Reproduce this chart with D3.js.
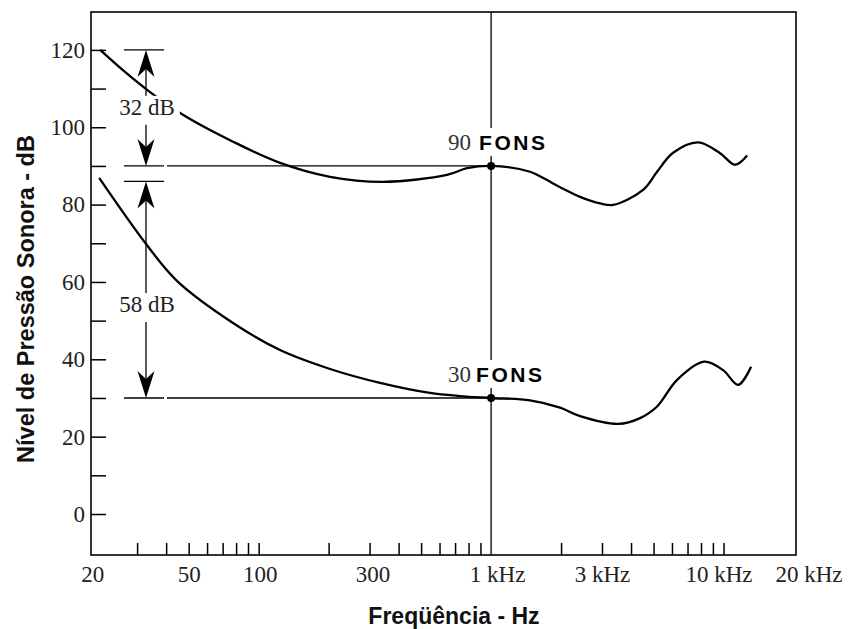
<!DOCTYPE html>
<html>
<head>
<meta charset="utf-8">
<script src="https://cdn.jsdelivr.net/npm/d3@7"></script>
<style>
  body { margin: 0; background: #fff; }
  svg { display: block; }
</style>
</head>
<body>
<svg class="chart" width="848" height="629"></svg>
<script>

//------------------------------------------------------------------------------
//Data
//------------------------------------------------------------------------------
// 90 phon curve (Hz, dB)
var freq90 = [20.8, 26.6, 34.1, 48.2, 76.8, 123.6, 202.9, 343, 646.6, 788, 1000, 1471, 1707, 1981, 2414, 2945, 3348, 4507, 5178, 6067, 7773, 9664, 11210, 12630];
var spl90  = [120, 114.3, 109.1, 102.9, 96.4, 90.8, 87.2, 85.9, 87.7, 89.4, 90, 88.5, 86.6, 84.5, 82.0, 80.3, 79.9, 83.8, 88.5, 93.4, 96.1, 93.3, 90.3, 92.7];

// 30 phon curve (Hz, dB)
var freq30 = [20.6, 32.8, 44.5, 77.6, 123.6, 202.9, 332.9, 546, 735, 1000, 1471, 1981, 2414, 3519, 4376, 5178, 6312, 8250, 9956, 11550, 13140];
var spl30  = [86.9, 69.8, 60.3, 49.4, 42.4, 37.5, 33.9, 31.3, 30.5, 30, 29.4, 27.5, 25.3, 23.3, 24.8, 27.8, 34.7, 39.4, 37.2, 33.4, 38.1];

// axis ticks
var yTicks = [0, 10, 20, 30, 40, 50, 60, 70, 80, 90, 100, 110, 120];
var xMinorTicks = [30, 40, 50, 60, 70, 80, 90, 100, 200, 300, 400, 500, 600, 700, 800, 900, 2000, 3000, 4000, 5000, 6000, 7000, 8000, 9000, 10000];
var xLabelValues = [20, 50, 100, 300, 1000, 3000, 10000, 20000];
var xLabelTexts  = ["20", "50", "100", "300", "1 kHz", "3 kHz", "10 kHz", "20 kHz"];

// reference frequency and the two loudness levels marked on it
var refFreq = 1000;
var phonLevels = [90, 30];
var phonNumbers = ["90", "30"];

// dB brackets on the left
var bracketLevels = [120, 90, 86, 30];
var spanTop    = [120, 86];
var spanBottom = [90, 30];
var spanLabel  = ["32 dB", "58 dB"];
var spanLabelAt = [105.3, 54.3];

//------------------------------------------------------------------------------
//Chart
//------------------------------------------------------------------------------
var svg = d3.select(".chart");
var plotLeft = 91, plotRight = 796, plotTop = 12, plotBottom = 555;

var x = d3.scaleLog().domain([19, 20500]).range([plotLeft, plotRight]);
var y = d3.scaleLinear().domain([-10.6, 129.8]).range([plotBottom, plotTop]);

var serif = "'Liberation Serif', 'Times New Roman', serif";
var sans = "'Liberation Sans', Arial, sans-serif";

// small horizontal nudges of the x labels (the printed labels are not exactly on their ticks)
var xLabelNudge = [-4, 0, 1, 3, 6, 0, -5, 15];

// frame
svg.append("rect")
  .attr("x", plotLeft).attr("y", plotTop)
  .attr("width", plotRight - plotLeft).attr("height", plotBottom - plotTop)
  .attr("fill", "none").attr("stroke", "#000").attr("stroke-width", 1.6);

// y axis: inner ticks, labels every 20 dB
var yAxis = svg.append("g")
  .attr("transform", "translate(" + plotLeft + ",0)")
  .call(d3.axisLeft(y).tickValues(yTicks).tickSize(-15).tickPadding(6)
    .tickFormat(function (d) { return d % 20 === 0 ? d : ""; }));
yAxis.select(".domain").remove();
yAxis.selectAll("line").attr("stroke-width", 1.5);
yAxis.selectAll("text").attr("font-family", serif).attr("font-size", 23).attr("fill", "#222");

// x axis: minor ticks
var xTickAxis = svg.append("g")
  .attr("transform", "translate(0," + plotBottom + ")")
  .call(d3.axisBottom(x).tickValues(xMinorTicks).tickSize(-12).tickFormat(""));
xTickAxis.select(".domain").remove();
xTickAxis.selectAll("line").attr("stroke-width", 1.5);

// x axis: labels
var xLabelAxis = svg.append("g")
  .attr("transform", "translate(0," + plotBottom + ")")
  .call(d3.axisBottom(x).tickValues(xLabelValues).tickSize(0).tickPadding(11)
    .tickFormat(function (d, i) { return xLabelTexts[i]; }));
xLabelAxis.select(".domain").remove();
xLabelAxis.selectAll("text")
  .attr("font-family", serif).attr("font-size", 23).attr("fill", "#222")
  .attr("dx", function (d, i) { return xLabelNudge[i]; });

// axis titles
svg.append("text")
  .attr("x", 454).attr("y", 624)
  .attr("text-anchor", "middle")
  .attr("font-family", sans).attr("font-weight", "bold").attr("font-size", 23)
  .attr("fill", "#111")
  .text("Freqüência - Hz");

svg.append("text")
  .attr("transform", "translate(34,299) rotate(-90)")
  .attr("text-anchor", "middle")
  .attr("font-family", sans).attr("font-weight", "bold").attr("font-size", 23.5)
  .attr("fill", "#111")
  .text("Nível de Pressão Sonora - dB");

// vertical 1 kHz line
svg.append("line")
  .attr("x1", x(refFreq)).attr("x2", x(refFreq))
  .attr("y1", plotTop).attr("y2", plotBottom)
  .attr("stroke", "#000").attr("stroke-width", 1.3);

// horizontal reference lines to 1 kHz
var annX = 146, brX1 = 124, brX2 = 164, lineStart = 167;
phonLevels.forEach(function (p) {
  svg.append("line")
    .attr("x1", lineStart).attr("x2", x(refFreq))
    .attr("y1", y(p)).attr("y2", y(p))
    .attr("stroke", "#000").attr("stroke-width", 1.3);
});

// curves
var line = d3.line()
  .x(function (d) { return x(d[0]); })
  .y(function (d) { return y(d[1]); })
  .curve(d3.curveCatmullRom.alpha(0.5));

[[freq90, spl90], [freq30, spl30]].forEach(function (c) {
  svg.append("path")
    .datum(d3.zip(c[0], c[1]))
    .attr("d", line)
    .attr("fill", "none").attr("stroke", "#000").attr("stroke-width", 2.3);
});

// brackets
bracketLevels.forEach(function (b) {
  svg.append("line")
    .attr("x1", brX1).attr("x2", brX2)
    .attr("y1", y(b)).attr("y2", y(b))
    .attr("stroke", "#000").attr("stroke-width", 1.3);
});

function arrowHead(xTip, yTip, dir) {
  // dir = 1 points up, -1 points down
  var p = d3.path();
  p.moveTo(xTip, yTip);
  p.lineTo(xTip - 8.5, yTip + dir * 27);
  p.lineTo(xTip, yTip + dir * 19);
  p.lineTo(xTip + 8.5, yTip + dir * 27);
  p.closePath();
  svg.append("path").attr("d", p.toString()).attr("fill", "#000");
}

for (var i = 0; i < spanTop.length; i++) {
  svg.append("line")
    .attr("x1", annX).attr("x2", annX)
    .attr("y1", y(spanTop[i]) + 10).attr("y2", y(spanBottom[i]) - 10)
    .attr("stroke", "#000").attr("stroke-width", 1.3);
  arrowHead(annX, y(spanTop[i]), 1);
  arrowHead(annX, y(spanBottom[i]), -1);

  var g = svg.append("g");
  var t = g.append("text")
    .attr("x", annX + 1).attr("y", y(spanLabelAt[i]))
    .attr("dy", "0.35em")
    .attr("text-anchor", "middle")
    .attr("font-family", serif).attr("font-size", 23).attr("fill", "#222")
    .text(spanLabel[i]);
  var bb = t.node().getBBox();
  g.insert("rect", "text")
    .attr("x", bb.x - 5).attr("y", bb.y + 1)
    .attr("width", bb.width + 10).attr("height", bb.height + 4)
    .attr("fill", "#fff");
}

// phon labels and dots
phonLevels.forEach(function (p, i) {
  var g = svg.append("g");
  var base = y(p) - 16;
  g.append("text")
    .attr("x", x(refFreq) - 43).attr("y", base)
    .attr("font-family", serif).attr("font-size", 23).attr("fill", "#333")
    .text(phonNumbers[i]);
  g.append("text")
    .attr("x", x(refFreq) - (i === 0 ? 12 : 15)).attr("y", base)
    .attr("font-family", sans).attr("font-weight", "bold").attr("font-size", 21)
    .attr("letter-spacing", 2.5).attr("fill", "#000")
    .text("FONS");
  var bb = g.node().getBBox();
  g.insert("rect", "text")
    .attr("x", bb.x - 2).attr("y", bb.y - 2)
    .attr("width", bb.width + 2).attr("height", bb.height + 3)
    .attr("fill", "#fff");

  svg.append("circle")
    .attr("cx", x(refFreq)).attr("cy", y(p)).attr("r", 4)
    .attr("fill", "#000");
});

</script>
</body>
</html>
